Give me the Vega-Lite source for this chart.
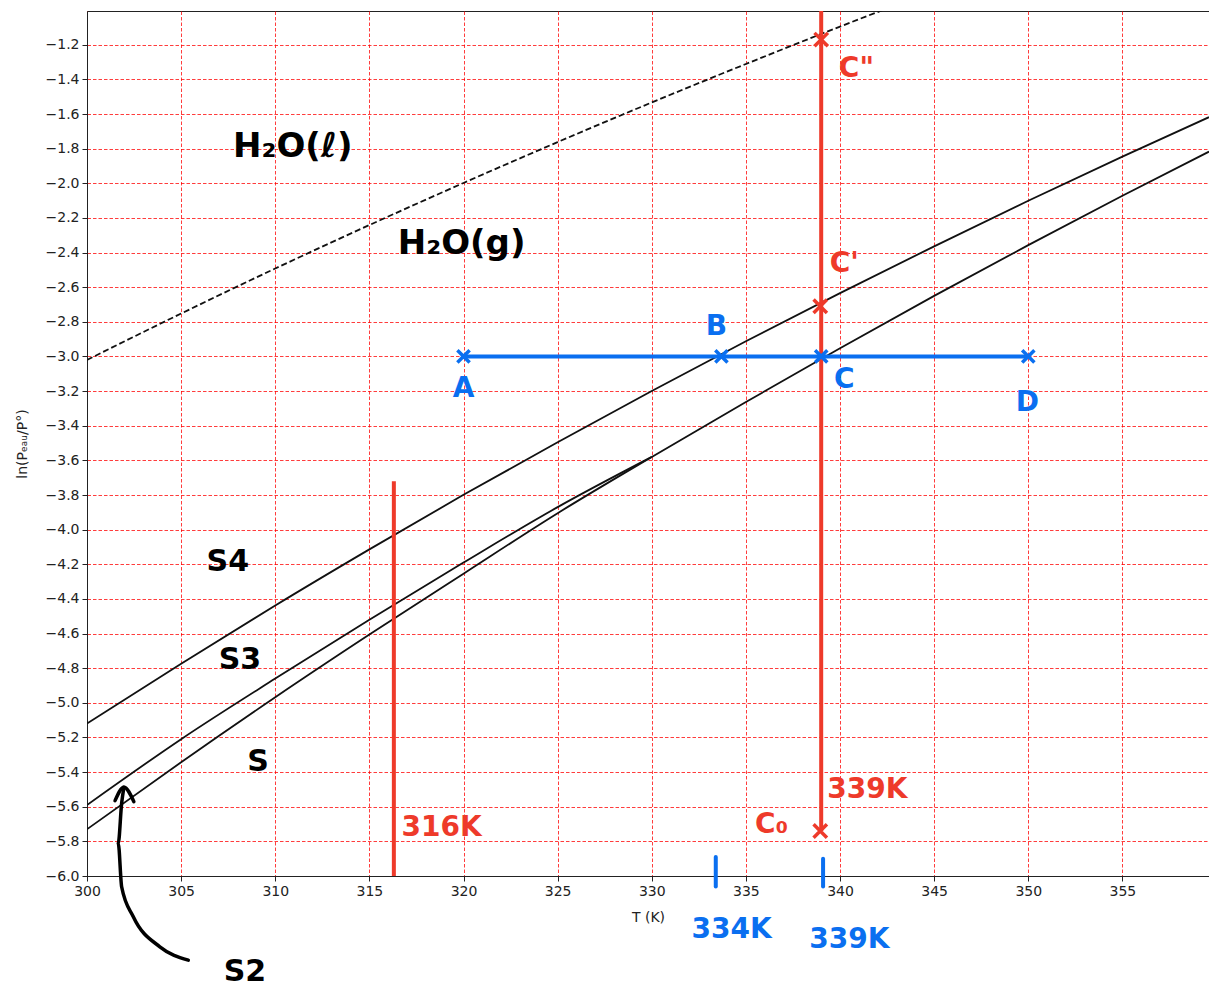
{
  "$schema": "https://vega.github.io/schema/vega-lite/v6.json",
  "width": 1122,
  "height": 865,
  "autosize": {"type": "none"},
  "padding": {"left": 87, "top": 11, "right": 0, "bottom": 114},
  "background": "white",
  "config": {
    "font": "DejaVu Sans",
    "view": {"stroke": "#222", "strokeWidth": 1}
  },
  "datasets": {
    "curves": [
      {"curve": "S4", "T": 300, "y": -5.12},
      {"curve": "S4", "T": 305, "y": -4.774},
      {"curve": "S4", "T": 310, "y": -4.438},
      {"curve": "S4", "T": 315, "y": -4.114},
      {"curve": "S4", "T": 320, "y": -3.799},
      {"curve": "S4", "T": 325, "y": -3.495},
      {"curve": "S4", "T": 330, "y": -3.199},
      {"curve": "S4", "T": 335, "y": -2.912},
      {"curve": "S4", "T": 340, "y": -2.634},
      {"curve": "S4", "T": 345, "y": -2.364},
      {"curve": "S4", "T": 350, "y": -2.101},
      {"curve": "S4", "T": 355, "y": -1.846},
      {"curve": "S4", "T": 359.6, "y": -1.618},
      {"curve": "S3", "T": 300, "y": -5.59},
      {"curve": "S3", "T": 305, "y": -5.21},
      {"curve": "S3", "T": 310, "y": -4.86},
      {"curve": "S3", "T": 315, "y": -4.52},
      {"curve": "S3", "T": 320, "y": -4.19},
      {"curve": "S3", "T": 325, "y": -3.87},
      {"curve": "S3", "T": 330, "y": -3.58},
      {"curve": "S", "T": 300, "y": -5.73},
      {"curve": "S", "T": 305, "y": -5.343},
      {"curve": "S", "T": 310, "y": -4.968},
      {"curve": "S", "T": 315, "y": -4.606},
      {"curve": "S", "T": 320, "y": -4.254},
      {"curve": "S", "T": 325, "y": -3.905},
      {"curve": "S", "T": 330, "y": -3.58},
      {"curve": "S", "T": 335, "y": -3.263},
      {"curve": "S", "T": 340, "y": -2.952},
      {"curve": "S", "T": 345, "y": -2.65},
      {"curve": "S", "T": 350, "y": -2.357},
      {"curve": "S", "T": 355, "y": -2.072},
      {"curve": "S", "T": 359.6, "y": -1.817}
    ],
    "liquid": [
      {"T": 300, "y": -3.02},
      {"T": 305, "y": -2.752},
      {"T": 310, "y": -2.492},
      {"T": 315, "y": -2.241},
      {"T": 320, "y": -1.998},
      {"T": 325, "y": -1.762},
      {"T": 330, "y": -1.533},
      {"T": 335, "y": -1.311},
      {"T": 340, "y": -1.095},
      {"T": 345, "y": -0.886}
    ],
    "blackLabels": [
      {"T": 307.48, "y": -4.185, "text": "S4"},
      {"T": 308.12, "y": -4.751, "text": "S3"},
      {"T": 309.08, "y": -5.341, "text": "S"},
      {"T": 308.39, "y": -6.555, "text": "S2"}
    ],
    "phaseLabels": [
      {"T": 310.93, "y": -1.792, "text": "H₂O(ℓ)"},
      {"T": 319.9, "y": -2.353, "text": "H₂O(g)"}
    ],
    "redLabels": [
      {"T": 340.87, "y": -1.341, "text": "C\""},
      {"T": 340.23, "y": -2.468, "text": "C'"},
      {"T": 341.45, "y": -5.503, "text": "339K"},
      {"T": 318.84, "y": -5.723, "text": "316K"},
      {"T": 336.36, "y": -5.705, "text": "C₀"}
    ],
    "blueLabels": [
      {"T": 320.01, "y": -3.185, "text": "A"},
      {"T": 333.44, "y": -2.832, "text": "B"},
      {"T": 340.23, "y": -3.133, "text": "C"},
      {"T": 349.95, "y": -3.266, "text": "D"},
      {"T": 334.24, "y": -6.312, "text": "334K"},
      {"T": 340.5, "y": -6.37, "text": "339K"}
    ],
    "redRules": [
      {"T": 316.3, "y": -6.0, "y2": -3.72},
      {"T": 339.0, "y": -5.74, "y2": -1.005}
    ],
    "redPoints": [
      {"name": "C''", "T": 339.0, "y": -1.17},
      {"name": "C'", "T": 338.95, "y": -2.71},
      {"name": "C0", "T": 338.95, "y": -5.74}
    ],
    "bluePoints": [
      {"name": "A", "T": 320.0, "y": -3.0},
      {"name": "B", "T": 333.7, "y": -3.0},
      {"name": "C", "T": 339.0, "y": -3.0},
      {"name": "D", "T": 350.0, "y": -3.0}
    ],
    "blueH": [{"T": 320, "T2": 350, "y": -3.0}],
    "blueTicks": [
      {"T": 333.4, "y": -5.89, "y2": -6.06},
      {"T": 339.1, "y": -5.9, "y2": -6.06}
    ],
    "arrow": [
      {"part": "shaft", "i": 0, "T": 305.38, "y": -6.486},
      {"part": "shaft", "i": 1, "T": 303.87, "y": -6.409},
      {"part": "shaft", "i": 2, "T": 302.46, "y": -6.235},
      {"part": "shaft", "i": 3, "T": 301.84, "y": -6.062},
      {"part": "shaft", "i": 4, "T": 301.66, "y": -5.811},
      {"part": "shaft", "i": 5, "T": 301.84, "y": -5.58},
      {"part": "shaft", "i": 6, "T": 301.96, "y": -5.487},
      {"part": "head", "i": 0, "T": 301.49, "y": -5.565},
      {"part": "head", "i": 1, "T": 301.96, "y": -5.487},
      {"part": "head", "i": 2, "T": 302.49, "y": -5.571}
    ]
  },
  "layer": [
    {
      "data": {"name": "curves"},
      "mark": {"type": "line", "color": "#111", "strokeWidth": 1.8, "interpolate": "monotone", "clip": true},
      "encoding": {
        "x": {
          "field": "T", "type": "quantitative",
          "scale": {"domain": [300, 359.6], "nice": false, "zero": false},
          "axis": {
            "title": "T (K)",
            "values": [300, 305, 310, 315, 320, 325, 330, 335, 340, 345, 350, 355],
            "tickCount": 20,
            "format": "d",
            "labelOverlap": false, "labelFlush": false,
            "grid": true, "gridColor": "#ff0000", "gridDash": [3.5, 2], "gridWidth": 0.9, "gridOpacity": 0.85,
            "labelFontSize": 14, "labelColor": "#222", "labelPadding": 3,
            "tickColor": "#222", "tickSize": 5, "domainColor": "#222",
            "titleFontSize": 14, "titleFontWeight": "normal", "titleColor": "#222", "titlePadding": 12
          }
        },
        "y": {
          "field": "y", "type": "quantitative",
          "scale": {"domain": [-6.0, -1.005], "nice": false, "zero": false},
          "axis": {
            "title": "ln(Pₑₐᵤ/P°)",
            "values": [-6.0, -5.8, -5.6, -5.4, -5.2, -5.0, -4.8, -4.6, -4.4, -4.2, -4.0, -3.8, -3.6, -3.4, -3.2, -3.0, -2.8, -2.6, -2.4, -2.2, -2.0, -1.8, -1.6, -1.4, -1.2],
            "tickCount": 40,
            "labelExpr": "replace(format(datum.value, '.1f'), '-', '−')",
            "labelOverlap": false, "labelFlush": false,
            "grid": true, "gridColor": "#ff0000", "gridDash": [3.5, 2], "gridWidth": 0.9, "gridOpacity": 0.85,
            "labelFontSize": 14, "labelColor": "#222", "labelPadding": 3,
            "tickColor": "#222", "tickSize": 5, "domainColor": "#222",
            "titleFontSize": 14, "titleFontWeight": "normal", "titleColor": "#222", "titlePadding": 16
          }
        },
        "detail": {"field": "curve", "type": "nominal"}
      }
    },
    {
      "data": {"name": "liquid"},
      "mark": {"type": "line", "color": "#111", "strokeWidth": 1.8, "strokeDash": [6, 3], "interpolate": "monotone", "clip": true},
      "encoding": {
        "x": {"field": "T", "type": "quantitative"},
        "y": {"field": "y", "type": "quantitative"}
      }
    },
    {
      "data": {"name": "redRules"},
      "mark": {"type": "rule", "color": "#ee3a2a", "strokeWidth": 4},
      "encoding": {
        "x": {"field": "T", "type": "quantitative"},
        "y": {"field": "y", "type": "quantitative"},
        "y2": {"field": "y2"}
      }
    },
    {
      "data": {"name": "blueH"},
      "mark": {"type": "rule", "color": "#0a6ff0", "strokeWidth": 4},
      "encoding": {
        "x": {"field": "T", "type": "quantitative"},
        "x2": {"field": "T2"},
        "y": {"field": "y", "type": "quantitative"}
      }
    },
    {
      "data": {"name": "blueTicks"},
      "mark": {"type": "rule", "color": "#0a6ff0", "strokeWidth": 4, "strokeCap": "round"},
      "encoding": {
        "x": {"field": "T", "type": "quantitative"},
        "y": {"field": "y", "type": "quantitative"},
        "y2": {"field": "y2"}
      }
    },
    {
      "data": {"name": "redPoints"},
      "mark": {"type": "point", "shape": "M-1,-1L1,1M1,-1L-1,1", "filled": false, "color": "#ee3a2a", "strokeWidth": 3.5, "size": 180, "opacity": 1},
      "encoding": {
        "x": {"field": "T", "type": "quantitative"},
        "y": {"field": "y", "type": "quantitative"}
      }
    },
    {
      "data": {"name": "bluePoints"},
      "mark": {"type": "point", "shape": "M-1,-1L1,1M1,-1L-1,1", "filled": false, "color": "#0a6ff0", "strokeWidth": 3.5, "size": 150, "opacity": 1},
      "encoding": {
        "x": {"field": "T", "type": "quantitative"},
        "y": {"field": "y", "type": "quantitative"}
      }
    },
    {
      "data": {"name": "arrow"},
      "mark": {"type": "line", "color": "#000", "strokeWidth": 3.5, "interpolate": "monotone", "strokeCap": "round", "strokeJoin": "round"},
      "encoding": {
        "x": {"field": "T", "type": "quantitative"},
        "y": {"field": "y", "type": "quantitative"},
        "detail": {"field": "part", "type": "nominal"},
        "order": {"field": "i", "type": "quantitative"}
      }
    },
    {
      "data": {"name": "phaseLabels"},
      "mark": {"type": "text", "font": "DejaVu Sans", "fontWeight": "bold", "fontSize": 34, "color": "#000", "align": "center", "baseline": "middle"},
      "encoding": {
        "x": {"field": "T", "type": "quantitative"},
        "y": {"field": "y", "type": "quantitative"},
        "text": {"field": "text"}
      }
    },
    {
      "data": {"name": "blackLabels"},
      "mark": {"type": "text", "font": "DejaVu Sans", "fontWeight": "bold", "fontSize": 30, "color": "#000", "align": "center", "baseline": "middle"},
      "encoding": {
        "x": {"field": "T", "type": "quantitative"},
        "y": {"field": "y", "type": "quantitative"},
        "text": {"field": "text"}
      }
    },
    {
      "data": {"name": "redLabels"},
      "mark": {"type": "text", "font": "DejaVu Sans", "fontWeight": "bold", "fontSize": 28, "color": "#ee3a2a", "align": "center", "baseline": "middle"},
      "encoding": {
        "x": {"field": "T", "type": "quantitative"},
        "y": {"field": "y", "type": "quantitative"},
        "text": {"field": "text"}
      }
    },
    {
      "data": {"name": "blueLabels"},
      "mark": {"type": "text", "font": "DejaVu Sans", "fontWeight": "bold", "fontSize": 28, "color": "#0a6ff0", "align": "center", "baseline": "middle"},
      "encoding": {
        "x": {"field": "T", "type": "quantitative"},
        "y": {"field": "y", "type": "quantitative"},
        "text": {"field": "text"}
      }
    }
  ]
}
